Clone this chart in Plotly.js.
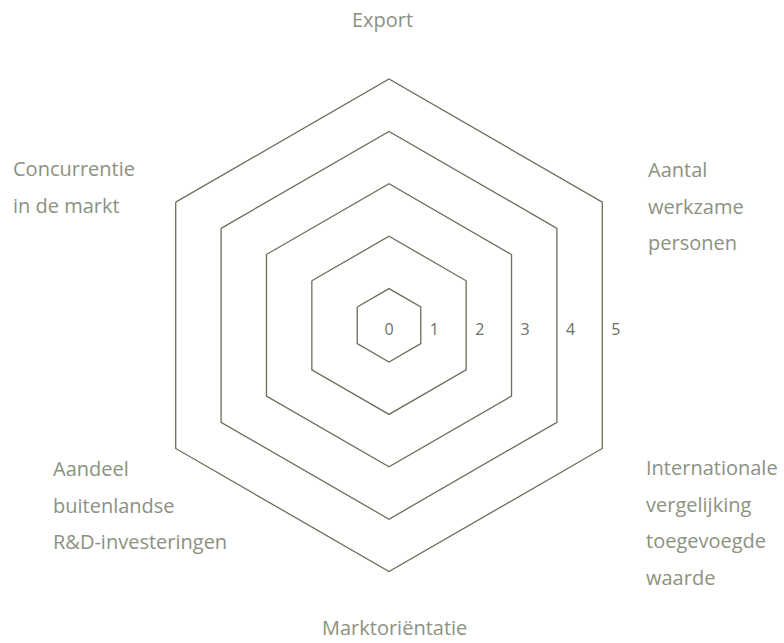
<!DOCTYPE html>
<html><head><meta charset="utf-8">
<script src="https://cdn.plot.ly/plotly-3.0.1.min.js"></script>
<style>html,body{margin:0;padding:0;background:#fff}</style>
</head><body><div id="chart" style="width:784px;height:643px"></div>
<script>
// ---- data ----
const categories = ["Export", "Aantal werkzame personen", "Internationale vergelijking toegevoegde waarde", "Marktoriëntatie", "Aandeel buitenlandse R&D-investeringen", "Concurrentie in de markt"];
const categoryLines = [["Export"], ["Aantal", "werkzame", "personen"], ["Internationale", "vergelijking", "toegevoegde", "waarde"], ["Marktoriëntatie"], ["Aandeel", "buitenlandse", "R&amp;D-investeringen"], ["Concurrentie", "in de markt"]];
const gridLevels = [1, 2, 3, 4, 5];
const scaleTicks = [0, 1, 2, 3, 4, 5];
const scaleLabels = ["0", "1", "2", "3", "4", "5"];

// ---- layout constants ----
const W = 784, H = 643;
const CX = 389, CY = 325.3, R = 246.3;   // px geometry of the hexagon
const RMIN = 0.3;
const LINE = '#6d6d5b', TXT = '#8d9181', NUM = '#707066';
const FONT = 'Open Sans, sans-serif';
const LABEL_SIZE = 20, LINE_PITCH = 36.7;

const dom = (cx, cy) => ({x: [(cx - R) / W, (cx + R) / W], y: [(H - cy - R) / H, (H - cy + R) / H]});

// label placement (px): [x, y, xanchor, yanchor]
const labelPlace = [
  [382, 20, 'center', 'middle'],
  [645.5, 206, 'left', 'middle'],
  [644, 522.7, 'left', 'middle'],
  [394, 642.5, 'center', 'bottom'],
  [51, 504.5, 'left', 'middle'],
  [11, 187.2, 'left', 'middle']
];

const annotations = categoryLines.map((lines, i) => {
  const p = labelPlace[i];
  return {
    xref: 'paper', yref: 'paper', x: p[0] / W, y: 1 - p[1] / H,
    xanchor: p[2], yanchor: p[3], align: p[2] === 'center' ? 'center' : 'left',
    showarrow: false,
    text: lines.map(l => '<span style="font-size:' + LABEL_SIZE + 'px">' + l + '</span>').join('<br>'),
    font: {family: FONT, size: LINE_PITCH / 1.3, color: TXT}
  };
});

const traces = [
  {type: 'scatterpolar', subplot: 'polar', theta: categories, r: categories.map(() => null),
   mode: 'lines', line: {width: 0}, hoverinfo: 'skip', showlegend: false},
  {type: 'scatterpolar', subplot: 'polar2', r: scaleTicks, theta: scaleTicks.map(() => 0),
   mode: 'text', text: scaleLabels, textposition: 'middle center',
   textfont: {family: FONT, size: 16, color: NUM}, hoverinfo: 'skip', showlegend: false}
];

const layout = {
  width: W, height: H,
  margin: {l: 0, r: 0, t: 0, b: 0},
  paper_bgcolor: '#ffffff',
  showlegend: false,
  hovermode: false,
  polar: {
    domain: dom(CX, CY),
    bgcolor: 'rgba(0,0,0,0)',
    gridshape: 'linear',
    angularaxis: {type: 'category', categoryorder: 'array', categoryarray: categories,
      rotation: 90, direction: 'clockwise', showgrid: false, showticklabels: false, ticks: '',
      showline: true, linecolor: LINE, linewidth: 1.3},
    radialaxis: {range: [RMIN, gridLevels[gridLevels.length - 1]], tickvals: gridLevels,
      showticklabels: false, ticks: '', showline: false, gridcolor: LINE, gridwidth: 1.3}
  },
  polar2: {
    domain: dom(CX, CY + 5.5),
    bgcolor: 'rgba(0,0,0,0)',
    angularaxis: {visible: false, rotation: 0, direction: 'counterclockwise'},
    radialaxis: {visible: false, range: [0, (gridLevels[gridLevels.length - 1] - RMIN) / Math.cos(Math.PI / 6)]}
  },
  annotations: annotations
};

Plotly.newPlot('chart', traces, layout, {displayModeBar: false, staticPlot: true});
</script>
</body></html>
